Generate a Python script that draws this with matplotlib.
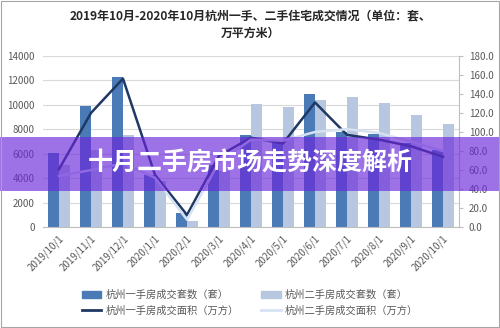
import matplotlib
matplotlib.use("Agg")
import matplotlib.pyplot as plt
import numpy as np
from matplotlib.patches import Rectangle
from matplotlib.lines import Line2D

plt.rcParams['font.family'] = ['Noto Sans CJK SC', 'DejaVu Sans']

# 杭州一手、二手住宅成交 (套 / 万平方米)
dates = ['2019/10/1', '2019/11/1', '2019/12/1', '2020/1/1', '2020/2/1', '2020/3/1',
         '2020/4/1', '2020/5/1', '2020/6/1', '2020/7/1', '2020/8/1', '2020/9/1', '2020/10/1']
new_units = [6100, 9900, 12300, 4300, 1150, 5100, 7500, 7000, 10900, 7800, 7650, 6850, 6300]
used_units = [5100, 6300, 7500, 3800, 550, 4600, 10100, 9800, 10400, 10600, 10150, 9200, 8400]
new_area = [61, 120, 156, 55, 13, 75, 94, 88, 131, 97, 92, 85, 74]
used_area = [54, 60, 67, 52, 8, 68, 92, 91, 100, 103, 99, 90, 80]
legend_labels = ['杭州一手房成交套数（套）', '杭州二手房成交套数（套）',
                 '杭州一手房成交面积（万方）', '杭州二手房成交面积（万方）']

C_NEW_BAR = '#4a7bb7'
C_USED_BAR = '#b7c7e0'
C_NEW_LINE = '#1f3864'
C_USED_LINE = '#d6e1f2'
C_TEXT = '#595959'

fig = plt.figure(figsize=(5.0, 3.28), dpi=100)
ax = fig.add_axes([0.086, 0.307, 0.832, 0.523])
x = np.arange(len(dates))
w = 0.35
ax.bar(x - w / 2, new_units, w, color=C_NEW_BAR, zorder=2)
ax.bar(x + w / 2, used_units, w, color=C_USED_BAR, zorder=2)
ax.set_xlim(-0.5, len(dates) - 0.5)
ax.set_ylim(0, 14000)
ax.set_yticks(range(0, 14001, 2000))
ax.yaxis.grid(True, color='#d9d9d9', lw=0.8, zorder=0)
ax.set_axisbelow(True)
ax.set_xticks(x)
ax.set_xticklabels(dates, rotation=45, ha='right', rotation_mode='anchor')
for s in ['top', 'left', 'right']:
    ax.spines[s].set_visible(False)
ax.spines['bottom'].set_color('#bfbfbf')
ax.tick_params(axis='y', length=0, labelsize=7, labelcolor=C_TEXT, pad=6)
ax.tick_params(axis='x', length=0, labelsize=7, labelcolor=C_TEXT, pad=4)

ax2 = ax.twinx()
ax2.plot(x, new_area, color=C_NEW_LINE, lw=1.8, zorder=3)
ax2.plot(x, used_area, color=C_USED_LINE, lw=1.8, zorder=3)
ax2.set_ylim(0, 180)
ax2.set_yticks(range(0, 181, 20))
ax2.set_yticklabels([f'{v:.1f}' for v in range(0, 181, 20)])
for s in ['top', 'left', 'bottom']:
    ax2.spines[s].set_visible(False)
ax2.spines['right'].set_color('#bfbfbf')
ax2.tick_params(axis='y', length=3, color='#bfbfbf', labelsize=7, labelcolor=C_TEXT, pad=4)

fig.text(0.5, 0.952, '2019年10月-2020年10月杭州一手、二手住宅成交情况（单位：套、',
         ha='center', va='center', fontsize=8.6, fontweight='bold', color='#262626')
fig.text(0.5, 0.898, '万平方米）', ha='center', va='center', fontsize=8.6,
         fontweight='bold', color='#262626')

# legend fills column-first, so order handles to get the reference rows
handles = [Rectangle((0, 0), 1, 1, color=C_NEW_BAR), Line2D([], [], color=C_NEW_LINE, lw=2),
           Rectangle((0, 0), 1, 1, color=C_USED_BAR), Line2D([], [], color=C_USED_LINE, lw=2)]
labels = [legend_labels[0], legend_labels[2], legend_labels[1], legend_labels[3]]
fig.legend(handles, labels, ncol=2, loc='center', bbox_to_anchor=(0.5, 0.077),
           frameon=False, fontsize=7.4, labelcolor=C_TEXT, handlelength=1.9,
           handleheight=0.6, columnspacing=2.2, labelspacing=0.55, handletextpad=0.4)

# banner overlay
fig.patches.append(Rectangle((0, 1 - 191 / 328), 1, 54 / 328, transform=fig.transFigure,
                             facecolor=(0.42, 0.15, 0.86), alpha=0.65, edgecolor='none',
                             zorder=10))
fig.text(0.5, 1 - 164 / 328, '十月二手房市场走势深度解析', ha='center', va='center',
         fontsize=18, fontweight='bold', color='white', zorder=11)

fig.patches.append(Rectangle((0.002, 0.003), 0.996, 0.994, transform=fig.transFigure,
                             facecolor='none', edgecolor='#a6a6a6', lw=0.8, zorder=12))

fig.savefig('out.png', dpi=100)
